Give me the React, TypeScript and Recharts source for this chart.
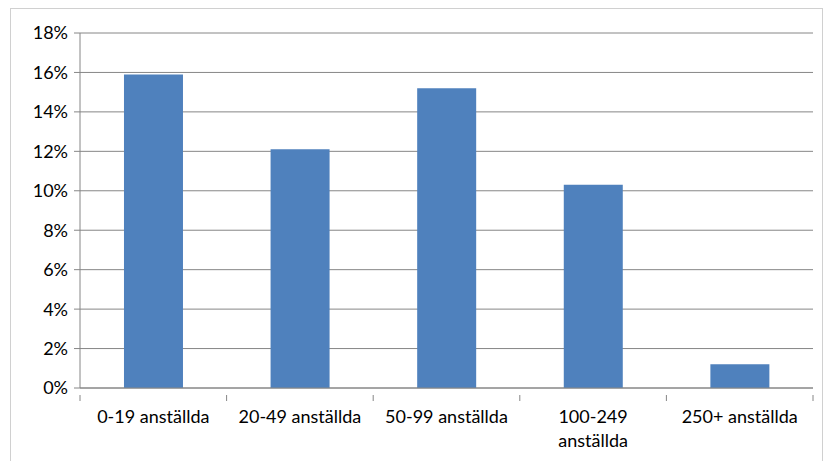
import React from "react";
import { BarChart, Bar, XAxis, YAxis, CartesianGrid } from "recharts";

const categories = [
  "0-19 anställda",
  "20-49 anställda",
  "50-99 anställda",
  "100-249 anställda",
  "250+ anställda",
];
const shares = [15.9, 12.1, 15.2, 10.3, 1.2];
const yTicks = [0, 2, 4, 6, 8, 10, 12, 14, 16, 18];

const data = categories.map((name, i) => ({ name, value: shares[i] }));

const FONT = "Lato, 'Open Sans', sans-serif";
const AXIS = "#868686";

// category label plus the tick marks that Excel puts between the bars
const CategoryTick = (props: any) => {
  const { x, y, payload, index, visibleTicksCount } = props;
  const half = payload?.offset ?? 73;
  const text: string = payload.value;
  const lines = text.length > 15 ? text.split(" ") : [text];
  const last = index === (visibleTicksCount ?? categories.length) - 1;
  return (
    <g>
      <line x1={x - half} y1={y - 1} x2={x - half} y2={y + 5} stroke={AXIS} />
      {last && <line x1={x + half} y1={y - 1} x2={x + half} y2={y + 5} stroke={AXIS} />}
      <text x={x} y={y + 27} textAnchor="middle" fontFamily={FONT} fontSize={18} fill="#000">
        {lines.map((l, i) => (
          <tspan key={i} x={x} dy={i === 0 ? 0 : 24}>
            {l}
          </tspan>
        ))}
      </text>
    </g>
  );
};

export default function App() {
  return (
    <div style={{ position: "fixed", left: 0, top: 0, width: 825, height: 461, background: "#fff", overflow: "hidden" }}>
      <div
        style={{
          position: "absolute",
          left: 10,
          top: 8,
          width: 813,
          height: 470,
          border: "1px solid #d0d0d0",
          boxSizing: "border-box",
        }}
      />
      <div style={{ position: "absolute", left: 0, top: 0 }}>
        <BarChart
          width={825}
          height={461}
          data={data}
          margin={{ top: 33, right: 12, left: 0, bottom: 23 }}
          barCategoryGap="30%"
        >
          <CartesianGrid vertical={false} stroke={AXIS} strokeWidth={1} />
          <XAxis
            dataKey="name"
            height={50}
            stroke={AXIS}
            tickLine={false}
            interval={0}
            tick={<CategoryTick />}
          />
          <YAxis
            width={80}
            domain={[0, 18]}
            ticks={yTicks}
            interval={0}
            stroke={AXIS}
            tickSize={6}
            tickMargin={6}
            tickFormatter={(v: number) => `${v}%`}
            tick={{ fontFamily: FONT, fontSize: 18, fill: "#000" }}
          />
          <Bar dataKey="value" fill="#4f81bd" isAnimationActive={false} />
        </BarChart>
      </div>
    </div>
  );
}
